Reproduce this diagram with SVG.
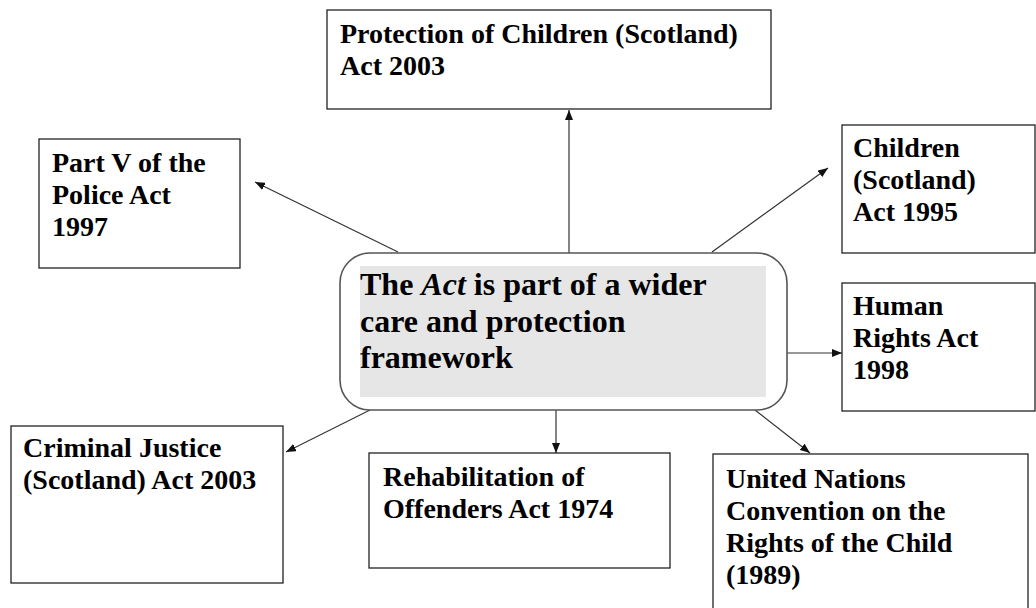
<svg xmlns="http://www.w3.org/2000/svg" width="1036" height="608" viewBox="0 0 1036 608">
<style>
.box{fill:#fff;stroke:#222;stroke-width:1.3}
.t{font-family:"Liberation Serif","Times New Roman",serif;font-weight:bold;font-size:28px;fill:#000}
.tc{font-family:"Liberation Serif","Times New Roman",serif;font-weight:bold;font-size:32px;fill:#000}
.conn line{stroke:#333;stroke-width:1.2}
</style>
<defs>
<marker id="ah" markerUnits="userSpaceOnUse" markerWidth="10" markerHeight="8" refX="10" refY="4" orient="auto">
<path d="M0,0 L10,4 L0,8 z" fill="#111"/>
</marker>
</defs>
<rect width="1036" height="608" fill="#fff"/>
<g id="conn" class="conn">
<line x1="569" y1="253" x2="569" y2="110" marker-end="url(#ah)"/>
<line x1="398" y1="252" x2="255" y2="182" marker-end="url(#ah)"/>
<line x1="712" y1="252" x2="828" y2="168" marker-end="url(#ah)"/>
<line x1="786" y1="353" x2="842" y2="353" marker-end="url(#ah)"/>
<line x1="370" y1="410" x2="286" y2="452" marker-end="url(#ah)"/>
<line x1="556" y1="410" x2="556" y2="453" marker-end="url(#ah)"/>
<line x1="755" y1="410" x2="810" y2="453" marker-end="url(#ah)"/>
</g>
<g id="center">
<rect x="340" y="253" width="447" height="157" rx="30" ry="30" fill="#fff" stroke="#555" stroke-width="1.6"/>
<rect x="360" y="266" width="406" height="131" fill="#e6e6e6"/>
<text class="tc" x="360" y="295">The <tspan font-style="italic">Act</tspan> is part of a wider</text>
<text class="tc" x="360" y="332">care and protection</text>
<text class="tc" x="360" y="368">framework</text>
</g>
<g id="protection">
<rect class="box" x="327" y="10" width="444" height="99"/>
<text class="t" x="340" y="43">Protection of Children (Scotland)</text>
<text class="t" x="340" y="75">Act 2003</text>
</g>
<g id="police">
<rect class="box" x="39" y="139" width="201" height="129"/>
<text class="t" x="52" y="172">Part V of the</text>
<text class="t" x="52" y="204">Police Act</text>
<text class="t" x="52" y="236">1997</text>
</g>
<g id="children">
<rect class="box" x="842" y="125" width="193" height="128"/>
<text class="t" x="853" y="157">Children</text>
<text class="t" x="853" y="189">(Scotland)</text>
<text class="t" x="853" y="221">Act 1995</text>
</g>
<g id="human">
<rect class="box" x="842" y="283" width="193" height="128"/>
<text class="t" x="853" y="315">Human</text>
<text class="t" x="853" y="347">Rights Act</text>
<text class="t" x="853" y="379">1998</text>
</g>
<g id="criminal">
<rect class="box" x="11" y="426" width="272" height="157"/>
<text class="t" x="23" y="457">Criminal Justice</text>
<text class="t" x="23" y="489">(Scotland) Act 2003</text>
</g>
<g id="rehab">
<rect class="box" x="369" y="453" width="301" height="115"/>
<text class="t" x="383" y="486">Rehabilitation of</text>
<text class="t" x="383" y="518">Offenders Act 1974</text>
</g>
<g id="uncrc">
<rect class="box" x="713" y="454" width="315" height="160"/>
<text class="t" x="726" y="488">United Nations</text>
<text class="t" x="726" y="520">Convention on the</text>
<text class="t" x="726" y="552">Rights of the Child</text>
<text class="t" x="726" y="584">(1989)</text>
</g>
</svg>
